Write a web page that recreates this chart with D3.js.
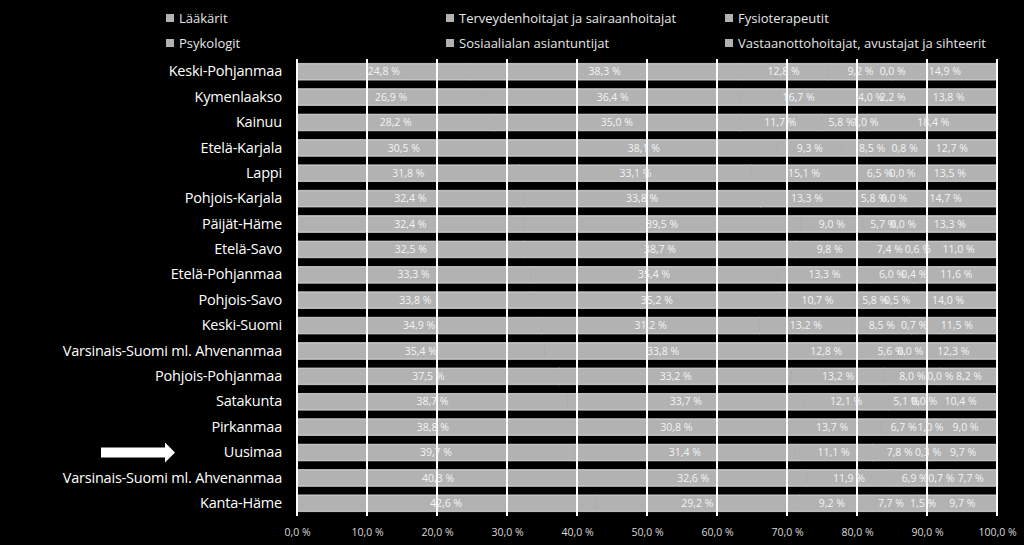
<!DOCTYPE html>
<html><head><meta charset="utf-8">
<script src="https://cdn.jsdelivr.net/npm/d3@7"></script>
<style>
html,body{margin:0;padding:0;background:#000;}
svg{display:block;}
</style></head>
<body>
<svg id="chart" width="1024" height="545"></svg>
<script>
const regions = ["Keski-Pohjanmaa","Kymenlaakso","Kainuu","Etelä-Karjala","Lappi","Pohjois-Karjala","Päijät-Häme","Etelä-Savo","Etelä-Pohjanmaa","Pohjois-Savo","Keski-Suomi","Varsinais-Suomi ml. Ahvenanmaa","Pohjois-Pohjanmaa","Satakunta","Pirkanmaa","Uusimaa","Varsinais-Suomi ml. Ahvenanmaa ","Kanta-Häme"];
const seriesNames = ["Lääkärit","Terveydenhoitajat ja sairaanhoitajat","Fysioterapeutit","Psykologit","Sosiaalialan asiantuntijat","Vastaanottohoitajat, avustajat ja sihteerit"];
const laakarit      = [24.8,26.9,28.2,30.5,31.8,32.4,32.4,32.5,33.3,33.8,34.9,35.4,37.5,38.7,38.8,39.7,40.3,42.6];
const terveyden     = [38.3,36.4,35.0,38.1,33.1,33.8,39.5,38.7,35.4,35.2,31.2,33.8,33.2,33.7,30.8,31.4,32.6,29.2];
const fysio         = [12.8,16.7,11.7,9.3,15.1,13.3,9.0,9.8,13.3,10.7,13.2,12.8,13.2,12.1,13.7,11.1,11.9,9.2];
const psykologit    = [9.2,4.0,5.8,8.5,6.5,5.8,5.7,7.4,6.0,5.8,8.5,5.6,8.0,5.1,6.7,7.8,6.9,7.7];
const sosiaali      = [0.0,2.2,1.0,0.8,0.0,0.0,0.0,0.6,0.4,0.5,0.7,0.0,0.0,0.0,1.0,0.3,0.7,1.5];
const vastaanotto   = [14.9,13.8,18.4,12.7,13.5,14.7,13.3,11.0,11.6,14.0,11.5,12.3,8.2,10.4,9.0,9.7,7.7,9.7];
const xTicks = [0,10,20,30,40,50,60,70,80,90,100];
const highlighted = "Uusimaa";

const seriesValues = [laakarit,terveyden,fysio,psykologit,sosiaali,vastaanotto];
const rows = regions.map((r,i)=>{const o={region:r}; seriesNames.forEach((s,j)=>o[s]=seriesValues[j][i]); return o;});
const stacked = d3.stack().keys(seriesNames)(rows);

const svg = d3.select("#chart");
const font = "'Open Sans', 'Noto Sans', sans-serif";
const x = d3.scaleLinear().domain([0,100]).range([297,997]);
const y = d3.scaleBand().domain(regions).range([59,516]).paddingInner(0.34).paddingOuter(0.17);
const fmt = v => v.toFixed(1).replace(".", ",") + " %";
const barColor = "#b2b2b2";

// bars (segments, same colour, slight overlap to avoid seams)
const g = svg.append("g");
stacked.forEach(layer=>{
  g.selectAll(null).data(layer).enter().append("rect")
    .attr("x", d=>x(d[0])).attr("y", d=>y(d.data.region))
    .attr("width", d=>Math.max(0,x(d[1])-x(d[0]))).attr("height", y.bandwidth())
    .attr("fill", barColor).attr("stroke", barColor).attr("stroke-width", 0.8);
});
// full-bar light border
g.selectAll(null).data(regions).enter().append("rect")
  .attr("x", x(0)+0.5).attr("y", d=>y(d)+0.5)
  .attr("width", x(100)-x(0)-1).attr("height", y.bandwidth()-1)
  .attr("fill","none").attr("stroke","#c6c6c6").attr("stroke-width",1);

// gridlines on top
svg.append("g").selectAll("line").data(xTicks).enter().append("line")
  .attr("x1", d=>x(d)).attr("x2", d=>x(d)).attr("y1",59).attr("y2",516)
  .attr("stroke","#ffffff").attr("stroke-width",2);

// data labels
stacked.forEach(layer=>{
  svg.append("g").selectAll("text").data(layer).enter().append("text")
    .attr("x", d=>x((d[0]+d[1])/2)).attr("y", d=>y(d.data.region)+y.bandwidth()/2)
    .attr("dy","0.35em").attr("text-anchor","middle")
    .attr("font-family",font).attr("font-size","10.5px").attr("fill","#f2f2f2")
    .text(d=>fmt(d[1]-d[0]));
});

// x axis labels
const xAxis = d3.axisBottom(x).tickValues(xTicks).tickSize(0).tickFormat(d=>fmt(d));
const xa = svg.append("g").attr("transform","translate(0,526)").call(xAxis);
xa.select(".domain").remove();
xa.selectAll("text").attr("font-family",font).attr("font-size","10.5px").attr("fill","#d9d9d9");

// y axis labels
const yAxis = d3.axisLeft(y).tickSize(0).tickPadding(0);
const ya = svg.append("g").attr("transform","translate(282,0)").call(yAxis);
ya.select(".domain").remove();
ya.selectAll("text").attr("font-family",font).attr("font-size","14.5px").attr("fill","#ffffff").attr("letter-spacing","-0.2px");

// legend
const legendPos = [[166,18],[446,18],[725,18],[166,43],[446,43],[725,43]];
const leg = svg.append("g").selectAll("g").data(seriesNames).enter().append("g")
  .attr("transform",(d,i)=>`translate(${legendPos[i][0]},${legendPos[i][1]})`);
leg.append("rect").attr("x",0).attr("y",-4).attr("width",8).attr("height",8).attr("fill",barColor);
leg.append("text").attr("x",13).attr("y",0).attr("dy","0.35em")
  .attr("font-family",font).attr("font-size","13px").attr("fill","#e6e6e6")
  .text(d=>d);

// arrow pointing at highlighted region
const ay = y(highlighted)+y.bandwidth()/2;
svg.append("path")
  .attr("d",`M101,${ay-5}L165,${ay-5}L165,${ay-10}L175,${ay}L165,${ay+10}L165,${ay+5}L101,${ay+5}Z`)
  .attr("fill","#ffffff");
</script>
</body></html>
